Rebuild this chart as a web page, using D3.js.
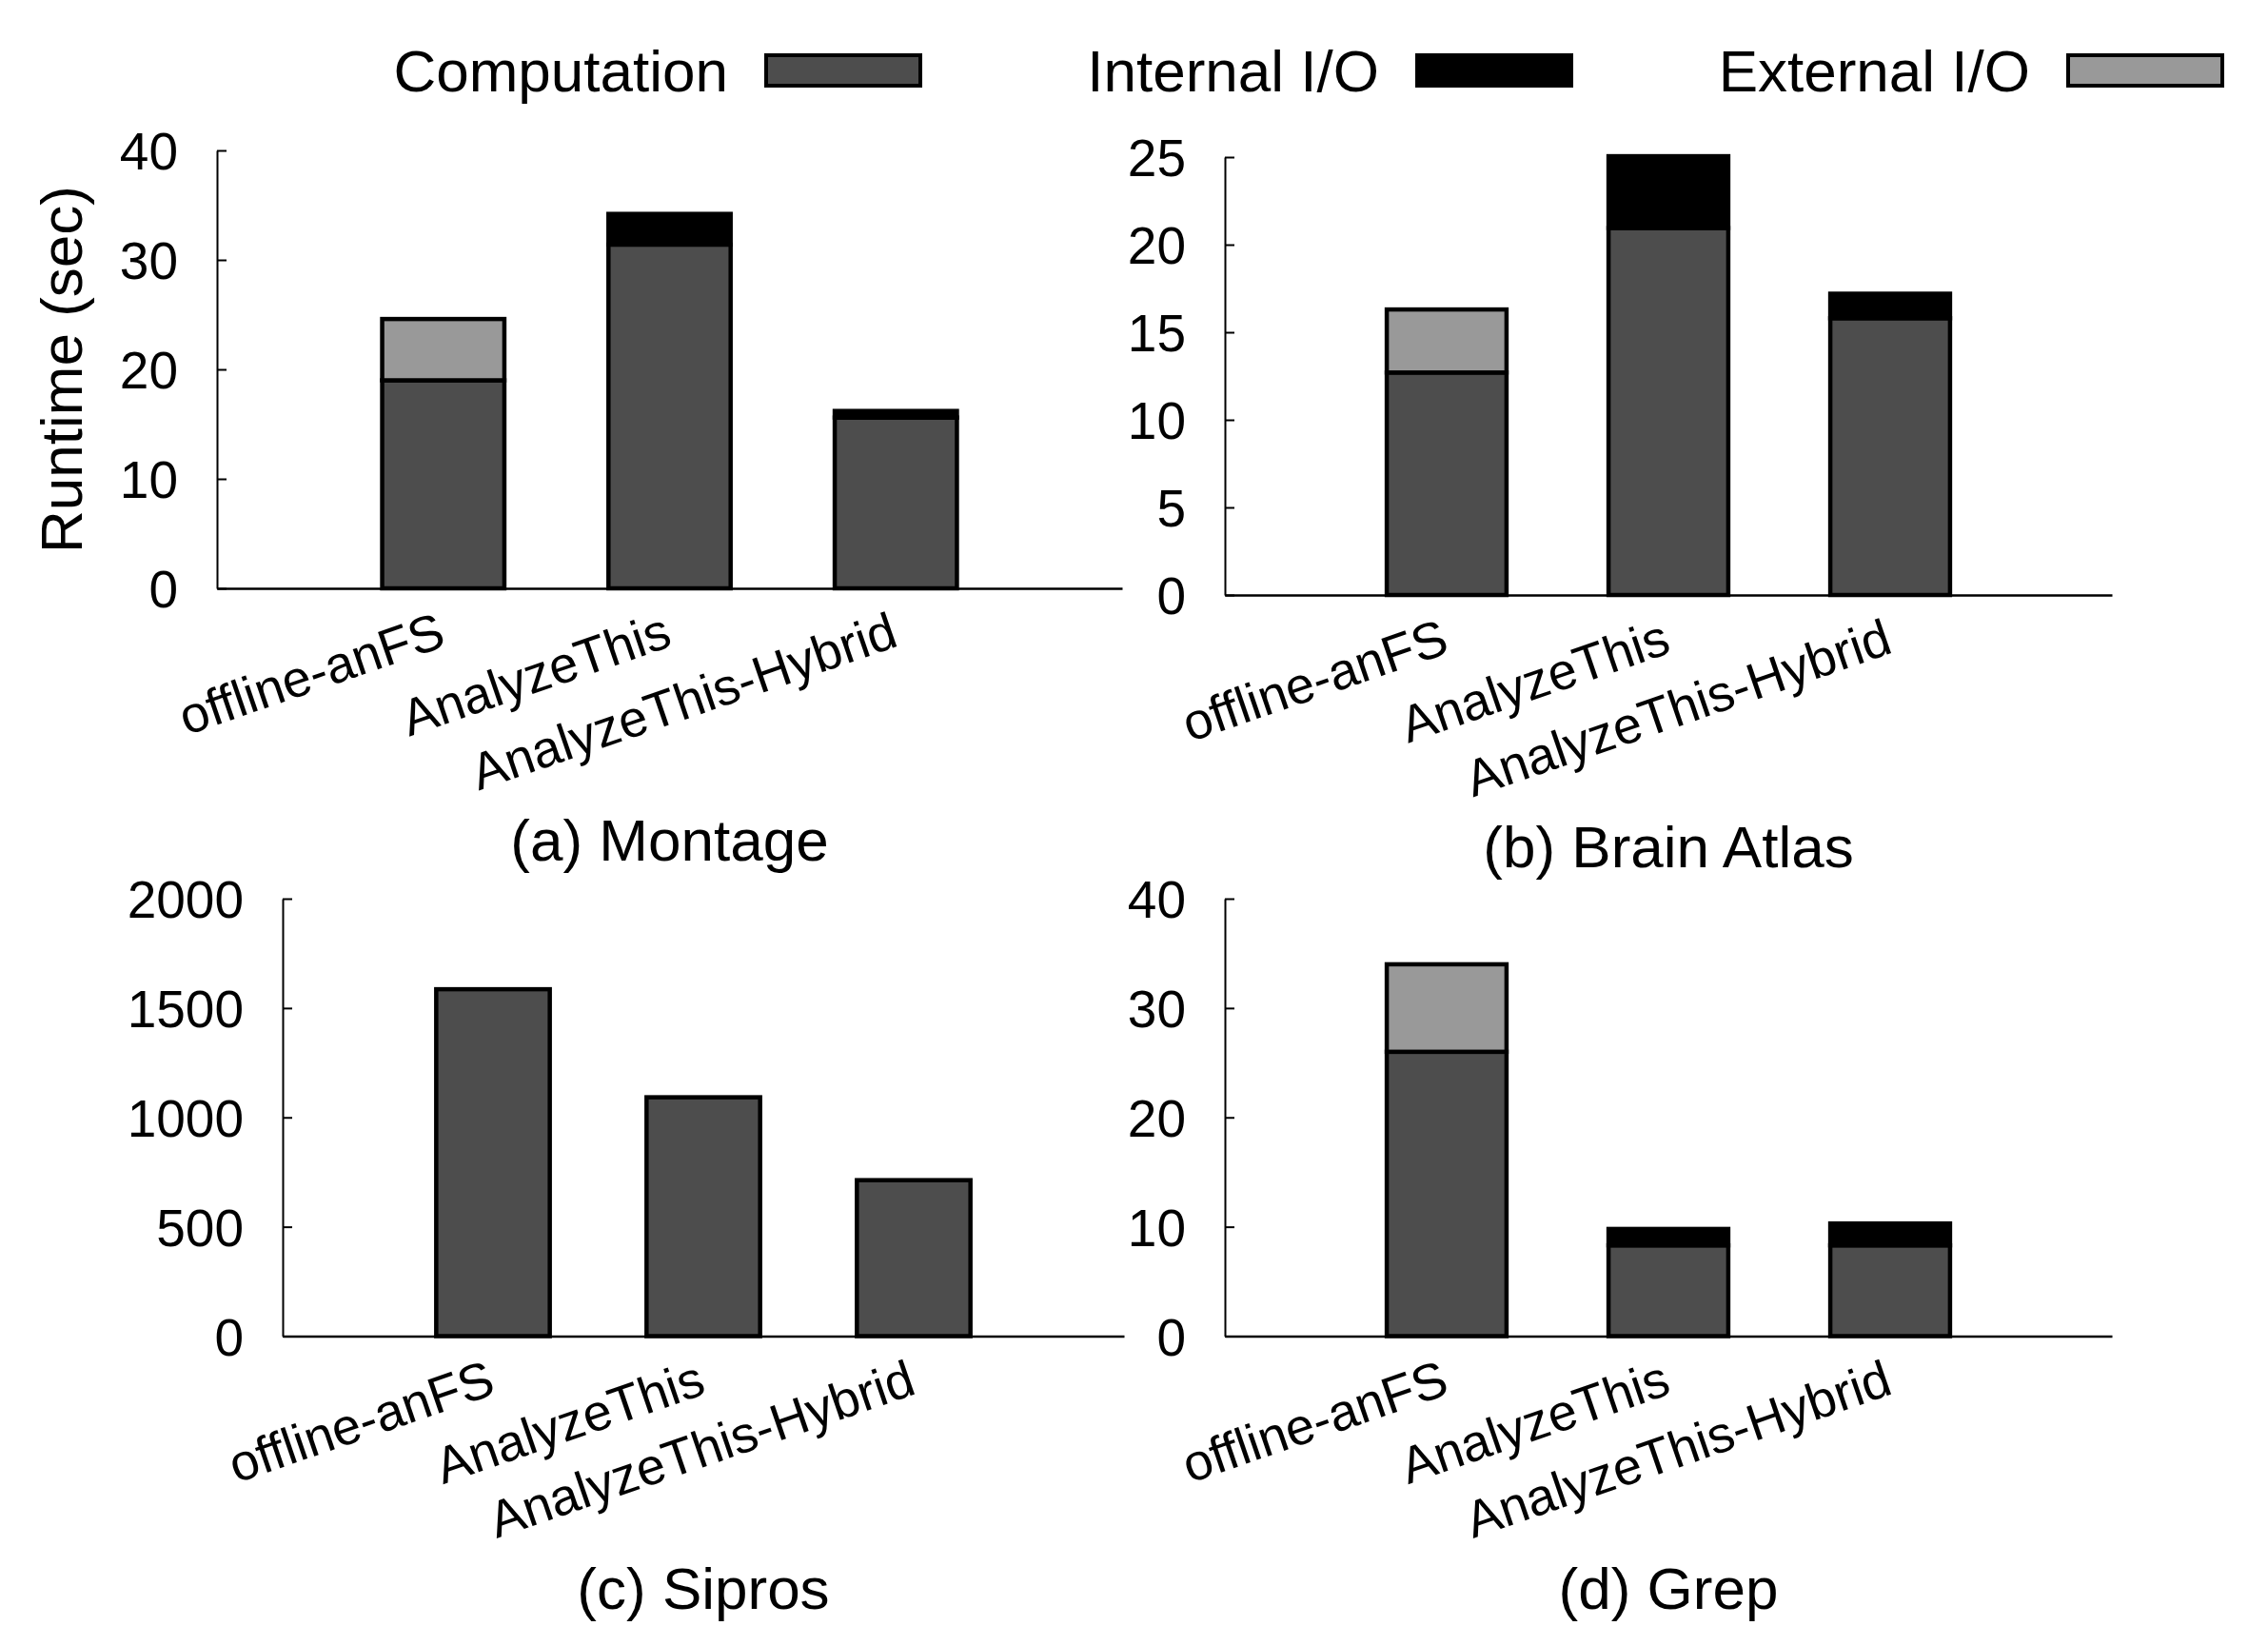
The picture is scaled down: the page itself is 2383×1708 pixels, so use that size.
<!DOCTYPE html>
<html>
<head>
<meta charset="utf-8">
<script src="https://cdn.jsdelivr.net/npm/d3@7"></script>
<style>
  html, body { margin: 0; padding: 0; background: #fff; }
  svg { display: block; }
  text { font-family: "Liberation Sans", Arial, Helvetica, sans-serif; fill: #000; }
</style>
</head>
<body>
<svg id="chart" width="2383" height="1708"></svg>
<script>
// ---------------- data ----------------
const categories = ["offline-anFS", "AnalyzeThis", "AnalyzeThis-Hybrid"];
const seriesNames = ["Computation", "Internal I/O", "External I/O"];

const panelTitles = ["(a) Montage", "(b) Brain Atlas", "(c) Sipros", "(d) Grep"];

const montageComputation = [19.0, 31.4, 15.6];
const montageInternal    = [0, 2.8, 0.6];
const montageExternal    = [5.6, 0, 0];

const brainComputation = [12.7, 20.95, 15.8];
const brainInternal    = [0, 4.1, 1.4];
const brainExternal    = [3.6, 0, 0];

const siprosComputation = [1586, 1092, 713];
const siprosInternal    = [0, 0, 0];
const siprosExternal    = [0, 0, 0];

const grepComputation = [26.0, 8.3, 8.3];
const grepInternal    = [0, 1.5, 2.0];
const grepExternal    = [8.0, 0, 0];

const montageTicks = [0, 10, 20, 30, 40];
const brainTicks   = [0, 5, 10, 15, 20, 25];
const siprosTicks  = [0, 500, 1000, 1500, 2000];
const grepTicks    = [0, 10, 20, 30, 40];

// ---------------- styling / layout ----------------
const colors = ["#4d4d4d", "#000000", "#999999"];
const tickFont = 55;
const labelFont = 54;
const bigFont = 62;

const panels = [
  { title: panelTitles[0], comp: montageComputation, intl: montageInternal, ext: montageExternal, ticks: montageTicks, max: 40,
    x0: 228, x1: 1179, yTop: 158, yBot: 618 },
  { title: panelTitles[1], comp: brainComputation, intl: brainInternal, ext: brainExternal, ticks: brainTicks, max: 25,
    x0: 1287, x1: 2219, yTop: 165, yBot: 625 },
  { title: panelTitles[2], comp: siprosComputation, intl: siprosInternal, ext: siprosExternal, ticks: siprosTicks, max: 2000,
    x0: 297, x1: 1181, yTop: 944, yBot: 1403.5 },
  { title: panelTitles[3], comp: grepComputation, intl: grepInternal, ext: grepExternal, ticks: grepTicks, max: 40,
    x0: 1287, x1: 2219, yTop: 944, yBot: 1403.5 }
];

const svg = d3.select("#chart");

panels.forEach(p => {
  const g = svg.append("g");
  const x = d3.scaleLinear().domain([-1, 3]).range([p.x0, p.x1]);
  const y = d3.scaleLinear().domain([0, p.max]).range([p.yBot, p.yTop]);
  const slot = x(1) - x(0);
  const bw = slot * 0.54;

  // stacked data
  const rows = categories.map((c, i) => ({ cat: i, Computation: p.comp[i], "Internal I/O": p.intl[i], "External I/O": p.ext[i] }));
  const stack = d3.stack().keys(seriesNames)(rows);

  stack.forEach((layer, li) => {
    g.selectAll(null).data(layer.filter(d => d[1] - d[0] > 0)).enter().append("rect")
      .attr("x", d => x(d.data.cat) - bw / 2)
      .attr("width", bw)
      .attr("y", d => y(d[1]))
      .attr("height", d => y(d[0]) - y(d[1]))
      .attr("fill", colors[li])
      .attr("stroke", "#000")
      .attr("stroke-width", 4.5);
  });

  // y axis
  const yAxis = d3.axisLeft(y).tickValues(p.ticks).tickSizeInner(-10).tickSizeOuter(0).tickPadding(41).tickFormat(d3.format("d"));
  const ya = g.append("g").attr("transform", `translate(${p.x0},0)`).call(yAxis);
  ya.select(".domain").attr("stroke", "#000").attr("stroke-width", 2);
  ya.selectAll(".tick line").attr("stroke", "#000").attr("stroke-width", 2);
  ya.selectAll(".tick text").attr("font-size", tickFont).attr("font-family", "Liberation Sans, Arial, sans-serif").attr("dy", "0.36em");

  // x axis
  const xAxis = d3.axisBottom(x).tickValues([0, 1, 2]).tickSize(0).tickFormat(i => categories[i]);
  const xa = g.append("g").attr("transform", `translate(0,${p.yBot})`).call(xAxis);
  xa.select(".domain").attr("stroke", "#000").attr("stroke-width", 2.5);
  xa.selectAll(".tick text")
    .attr("font-size", labelFont)
    .attr("font-family", "Liberation Sans, Arial, sans-serif")
    .attr("y", 0).attr("dy", 0)
    .attr("text-anchor", "end")
    .attr("transform", "translate(4,60) rotate(-19)");

  // title
  g.append("text")
    .attr("x", (p.x0 + p.x1) / 2)
    .attr("y", p.yBot + 286)
    .attr("text-anchor", "middle")
    .attr("font-size", bigFont)
    .text(p.title);
});

// y axis label (panel a)
svg.append("text")
  .attr("transform", `translate(86,${(158 + 618) / 2}) rotate(-90)`)
  .attr("text-anchor", "middle")
  .attr("font-size", bigFont)
  .text("Runtime (sec)");

// legend
const legendTextEnd = [765, 1449, 2133];
const legend = svg.append("g");
seriesNames.forEach((name, i) => {
  legend.append("text")
    .attr("x", legendTextEnd[i])
    .attr("y", 96)
    .attr("text-anchor", "end")
    .attr("font-size", bigFont)
    .text(name);
  legend.append("rect")
    .attr("x", legendTextEnd[i] + 40)
    .attr("y", 58)
    .attr("width", 162)
    .attr("height", 32)
    .attr("fill", colors[i])
    .attr("stroke", "#000")
    .attr("stroke-width", 4);
});
</script>
</body>
</html>
